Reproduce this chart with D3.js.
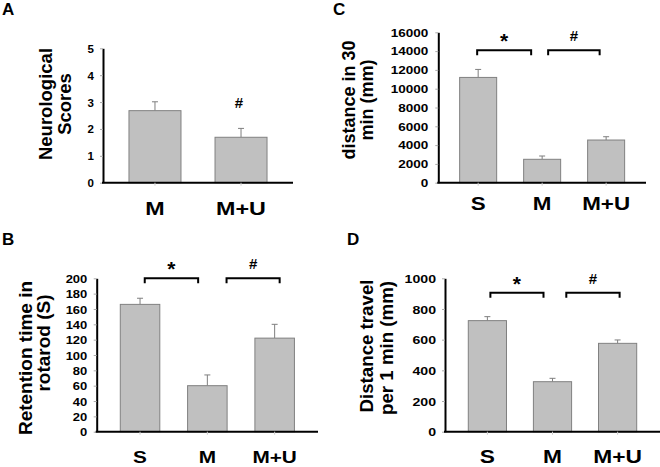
<!DOCTYPE html>
<html><head><meta charset="utf-8">
<script src="https://cdn.jsdelivr.net/npm/d3@7"></script>
<style>body{margin:0;background:#fff}svg{display:block}text{font-family:"Liberation Sans",Arial,sans-serif;font-weight:bold;fill:#000}</style>
</head><body>
<svg id="c" width="660" height="467"></svg>
<script>
// ---- data ----
const catsA = ["M", "M+U"];
const valsA = [2.68, 1.69];
const errA = [0.33, 0.33];
const ticksA = [0, 1, 2, 3, 4, 5];
const titleA = ["Neurological", "Scores"];

const catsB = ["S", "M", "M+U"];
const valsB = [166, 60, 122];
const errB = [8, 14, 18];
const ticksB = [0, 20, 40, 60, 80, 100, 120, 140, 160, 180, 200];
const titleB = ["Retention time in", "rotarod (S)"];

const catsC = ["S", "M", "M+U"];
const valsC = [11200, 2490, 4540];
const errC = [850, 350, 350];
const ticksC = [0, 2000, 4000, 6000, 8000, 10000, 12000, 14000, 16000];
const titleC = ["distance in 30", "min (mm)"];

const catsD = ["S", "M", "M+U"];
const valsD = [724, 326, 576];
const errD = [26, 22, 22];
const ticksD = [0, 200, 400, 600, 800, 1000];
const titleD = ["Distance travel", "per 1 min (mm)"];

const bracketsB = [{from: "S", to: "M", mark: "*", level: 200}, {from: "M", to: "M+U", mark: "#", level: 200}];
const bracketsC = [{from: "S", to: "M", mark: "*", level: 14100}, {from: "M", to: "M+U", mark: "#", level: 14100}];
const bracketsD = [{from: "S", to: "M", mark: "*", level: 905}, {from: "M", to: "M+U", mark: "#", level: 905}];
const marksA = [{cat: "M+U", mark: "#"}];

const svg = d3.select("#c");

function panel(cfg) {
  const g = svg.append("g");
  const x = d3.scaleBand().domain(cfg.cats).range([cfg.x0, cfg.x1])
    .paddingInner(cfg.pi).paddingOuter(cfg.po);
  const y = d3.scaleLinear().domain([0, d3.max(cfg.ticks)]).range([cfg.yb, cfg.yt]);
  const cx = d => x(d) + x.bandwidth() / 2;

  // error bars (upper only)
  const eg = g.append("g").attr("stroke", "#7f7f7f").attr("stroke-width", 1);
  cfg.cats.forEach((c, i) => {
    const top = y(cfg.vals[i] + cfg.errs[i]);
    eg.append("line").attr("x1", cx(c)).attr("x2", cx(c)).attr("y1", y(cfg.vals[i])).attr("y2", top);
    eg.append("line").attr("x1", cx(c) - 3).attr("x2", cx(c) + 3).attr("y1", top).attr("y2", top);
  });

  // bars
  g.append("g").selectAll("rect").data(cfg.cats).join("rect")
    .attr("x", d => x(d) + 0.5).attr("width", x.bandwidth() - 1)
    .attr("y", (d, i) => y(cfg.vals[i]))
    .attr("height", (d, i) => y(0) - y(cfg.vals[i]))
    .attr("fill", "#c0c0c0").attr("stroke", "#808080").attr("stroke-width", 1);

  // y axis
  const ya = g.append("g").attr("transform", `translate(${cfg.x0},0)`)
    .call(d3.axisLeft(y).tickValues(cfg.ticks).tickSize(3).tickSizeOuter(0).tickFormat(d3.format("d")));
  ya.select(".domain").attr("stroke", "#000").attr("stroke-width", 2);
  ya.selectAll(".tick line").attr("stroke", "#aaa").attr("stroke-width", 1);
  ya.selectAll(".tick text").attr("x", null).attr("dy", null)
    .attr("transform", `translate(${-cfg.tickGap},${cfg.tickFs * 0.36}) scale(${cfg.tickSx},1)`)
    .style("font-size", cfg.tickFs + "px").style("font-family", '"Liberation Sans",Arial,sans-serif').style("font-weight", "bold")
    .attr("fill", "#000");

  // x axis
  const xa = g.append("g").attr("transform", `translate(0,${cfg.yb})`)
    .call(d3.axisBottom(x).tickSize(3).tickSizeOuter(0));
  xa.select(".domain").attr("stroke", "#000").attr("stroke-width", 2).attr("d", `M${cfg.x0 - 1},0H${cfg.x1}`);
  xa.selectAll(".tick line").attr("stroke", "#ccc").attr("stroke-width", 1);
  xa.selectAll(".tick text").attr("y", null).attr("dy", null)
    .attr("transform", `translate(${cfg.labDx},${cfg.labY}) scale(${cfg.labSx},1)`)
    .style("font-size", cfg.labFs + "px").style("font-family", '"Liberation Sans",Arial,sans-serif').style("font-weight", "bold")
    .attr("fill", "#000");

  // axis title (rotated, two lines)
  cfg.title.forEach((t, i) => {
    g.append("text").text(t)
      .attr("text-anchor", "middle")
      .attr("transform", `translate(${cfg.titleX[i]},${cfg.titleY[i]}) rotate(-90)`)
      .style("font-size", cfg.titleFs + "px");
  });

  // brackets
  (cfg.brackets || []).forEach((b, i) => {
    const xa0 = cx(b.from) + cfg.brOff[i][0], xa1 = cx(b.to) + cfg.brOff[i][1];
    const yy = y(b.level);
    g.append("path").attr("d", `M${xa0},${yy + 5}V${yy}H${xa1}V${yy + 5}`)
      .attr("fill", "none").attr("stroke", "#000").attr("stroke-width", 2);
    g.append("text").text(b.mark).attr("text-anchor", "middle")
      .attr("x", (xa0 + xa1) / 2)
      .attr("y", yy - (b.mark === "*" ? 2 : 9))
      .style("font-size", (b.mark === "*" ? 21 : 15) + "px");
  });
  (cfg.marks || []).forEach(m => {
    const i = cfg.cats.indexOf(m.cat);
    g.append("text").text(m.mark).attr("text-anchor", "middle")
      .attr("x", cx(m.cat) - 2)
      .attr("y", y(cfg.vals[i] + cfg.errs[i]) - 20)
      .style("font-size", "15px");
  });

  // panel letter
  g.append("text").text(cfg.letter).attr("x", cfg.letterX).attr("y", cfg.letterY).style("font-size", "17px");
}

panel({letter: "A", letterX: 2, letterY: 15,
  cats: catsA, vals: valsA, errs: errA, ticks: ticksA, title: titleA, marks: marksA,
  x0: 103, x1: 293, yt: 48.3, yb: 182.7, pi: 0.384, po: 0.296,
  tickFs: 11, tickSx: 1.05, tickGap: 9,
  labFs: 18.5, labSx: 1.26, labY: 32.3, labDx: 0,
  titleFs: 18.5, titleX: [51.5, 70.5], titleY: [104, 104]});

panel({letter: "C", letterX: 333, letterY: 15,
  cats: catsC, vals: valsC, errs: errC, ticks: ticksC, title: titleC, brackets: bracketsC,
  brOff: [[-1, -11], [6, -6.5]],
  x0: 438.3, x1: 646, yt: 32.3, yb: 182.7, pi: 0.406, po: 0.326,
  tickFs: 10.4, tickSx: 1.3, tickGap: 10,
  labFs: 18.5, labSx: 1.21, labY: 27.3, labDx: 0,
  titleFs: 18, titleX: [355, 373], titleY: [100, 100]});

panel({letter: "B", letterX: 2, letterY: 245,
  cats: catsB, vals: valsB, errs: errB, ticks: ticksB, title: titleB, brackets: bracketsB,
  brOff: [[4.7, -9.2], [19.2, 5]],
  x0: 96.7, x1: 318, yt: 278.3, yb: 431.7, pi: 0.398, po: 0.343,
  tickFs: 11.2, tickSx: 1.16, tickGap: 9.4,
  labFs: 16, labSx: 1.3, labY: 31, labDx: 0,
  titleFs: 19, titleX: [31.7, 50], titleY: [358, 343]});

panel({letter: "D", letterX: 347, letterY: 245,
  cats: catsD, vals: valsD, errs: errD, ticks: ticksD, title: titleD, brackets: bracketsD,
  brOff: [[3, -9], [13.8, 2]],
  x0: 445, x1: 660, yt: 278.3, yb: 431.7, pi: 0.398, po: 0.35,
  tickFs: 11.6, tickSx: 1.22, tickGap: 9,
  labFs: 18.5, labSx: 1.23, labY: 31, labDx: 0,
  titleFs: 18.7, titleX: [373.3, 393.3], titleY: [346, 348]});
</script>
</body></html>
